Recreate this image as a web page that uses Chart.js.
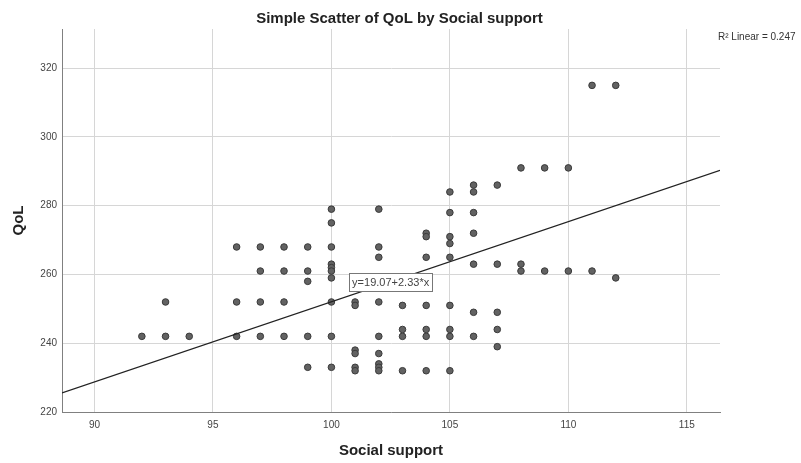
<!DOCTYPE html>
<html>
<head>
<meta charset="utf-8">
<script src="https://cdn.jsdelivr.net/npm/chart.js@4.4.1/dist/chart.umd.min.js"></script>
<style>
  html, body { margin: 0; padding: 0; background: #ffffff; }
  #wrap { width: 801px; height: 463px; }
</style>
</head>
<body>
<div id="wrap"><canvas id="c" width="801" height="463"></canvas></div>
<script>
const socialSupport = [
  92,
  93, 93,
  94,
  96, 96, 96,
  97, 97, 97, 97,
  98, 98, 98, 98,
  99, 99, 99, 99, 99,
  100, 100, 100, 100, 100, 100, 100, 100, 100, 100,
  101, 101, 101, 101, 101, 101,
  102, 102, 102, 102, 102, 102, 102, 102, 102,
  103, 103, 103, 103,
  104, 104, 104, 104, 104, 104, 104,
  105, 105, 105, 105, 105, 105, 105, 105, 105,
  106, 106, 106, 106, 106, 106, 106,
  107, 107, 107, 107, 107,
  108, 108, 108,
  109, 109,
  110, 110,
  111, 111,
  112, 112
];
const qol = [
  242,
  252, 242,
  242,
  268, 252, 242,
  268, 261, 252, 242,
  268, 261, 252, 242,
  268, 261, 258, 242, 233,
  279, 275, 268, 263, 262, 261, 259, 252, 242, 233,
  252, 251, 238, 237, 233, 232,
  279, 268, 265, 252, 242, 237, 234, 233, 232,
  251, 244, 242, 232,
  272, 271, 265, 251, 244, 242, 232,
  284, 278, 271, 269, 265, 251, 244, 242, 232,
  286, 284, 278, 272, 263, 249, 242,
  286, 263, 249, 244, 239,
  291, 263, 261,
  291, 261,
  291, 261,
  315, 261,
  315, 259
];
const xTicks = [90, 95, 100, 105, 110, 115];
const yTicks = [220, 240, 260, 280, 300, 320];
const xRange = [88.63, 116.4];
const yRange = [220, 331.4];
const fitIntercept = 19.07;
const fitSlope = 2.33;
const fitLabel = 'y=19.07+2.33*x';
const fitLabelX = 102.5;
const r2Label = 'R\u00B2 Linear = 0.247';
const titleText = 'Simple Scatter of QoL by Social support';
const xTitle = 'Social support';
const yTitle = 'QoL';

const points = socialSupport.map((x, i) => ({ x: x, y: qol[i] }));
const fitLine = xRange.map(x => ({ x: x, y: fitIntercept + fitSlope * x }));

const FONT = "'Liberation Sans', Arial, sans-serif";

const labelsPlugin = {
  id: 'labelsPlugin',
  afterDatasetsDraw(chart) {
    const ctx = chart.ctx;
    const xs = chart.scales.x, ys = chart.scales.y;
    ctx.save();
    // equation label box on the fit line
    ctx.font = '11px ' + FONT;
    const w = ctx.measureText(fitLabel).width + 6;
    const h = 18;
    const cx = xs.getPixelForValue(fitLabelX);
    const cy = ys.getPixelForValue(fitIntercept + fitSlope * fitLabelX);
    ctx.fillStyle = '#ffffff';
    ctx.fillRect(Math.round(cx - w / 2) + 0.5, Math.round(cy - h / 2) + 0.5, Math.round(w), h);
    ctx.strokeStyle = '#777777';
    ctx.lineWidth = 1;
    ctx.strokeRect(Math.round(cx - w / 2) + 0.5, Math.round(cy - h / 2) + 0.5, Math.round(w), h);
    ctx.fillStyle = '#444444';
    ctx.textAlign = 'center';
    ctx.textBaseline = 'middle';
    ctx.fillText(fitLabel, cx, cy + 1);
    // chart title
    ctx.font = 'bold 15px ' + FONT;
    ctx.fillStyle = '#222222';
    ctx.textAlign = 'center';
    ctx.fillText(titleText, 399.5, 19);
    // R² label at top right
    ctx.font = '10px ' + FONT;
    ctx.textAlign = 'left';
    ctx.fillStyle = '#333333';
    ctx.fillText(r2Label, 718, 37);
    ctx.restore();
  }
};

new Chart(document.getElementById('c'), {
  type: 'scatter',
  data: {
    datasets: [
      {
        type: 'scatter',
        data: points,
        backgroundColor: '#626262',
        borderColor: '#3a3a3a',
        borderWidth: 1,
        pointRadius: 3.3,
        pointHoverRadius: 3.3,
        order: 2
      },
      {
        type: 'line',
        data: fitLine,
        borderColor: '#222222',
        borderWidth: 1.2,
        pointRadius: 0,
        fill: false,
        order: 1
      }
    ]
  },
  options: {
    responsive: false,
    animation: false,
    events: [],
    layout: { padding: { top: 29, right: 81, bottom: 0, left: 0 } },
    plugins: {
      legend: { display: false },
      tooltip: { enabled: false },
      title: { display: false }
    },
    scales: {
      x: {
        type: 'linear',
        min: xRange[0],
        max: xRange[1],
        afterBuildTicks(scale) { scale.ticks = xTicks.map(v => ({ value: v })); },
        afterFit(scale) { scale.height = 51; },
        ticks: {
          color: '#444444',
          padding: 7,
          font: { family: FONT, size: 10 }
        },
        grid: { color: '#d6d6d6', lineWidth: 1, drawTicks: false },
        border: { display: true, color: '#808080', width: 1 },
        title: {
          display: true,
          text: xTitle,
          color: '#222222',
          font: { family: FONT, size: 15, weight: 'bold' },
          padding: { top: 3, bottom: 3 }
        }
      },
      y: {
        type: 'linear',
        min: yRange[0],
        max: yRange[1],
        afterBuildTicks(scale) { scale.ticks = yTicks.map(v => ({ value: v })); },
        afterFit(scale) { scale.width = 62; },
        ticks: {
          color: '#444444',
          padding: 5,
          font: { family: FONT, size: 10 }
        },
        grid: { color: '#d6d6d6', lineWidth: 1, drawTicks: false },
        border: { display: true, color: '#808080', width: 1 },
        title: {
          display: true,
          text: yTitle,
          color: '#222222',
          font: { family: FONT, size: 15, weight: 'bold' },
          padding: { top: 10, bottom: 10 }
        }
      }
    }
  },
  plugins: [labelsPlugin]
});
</script>
</body>
</html>
